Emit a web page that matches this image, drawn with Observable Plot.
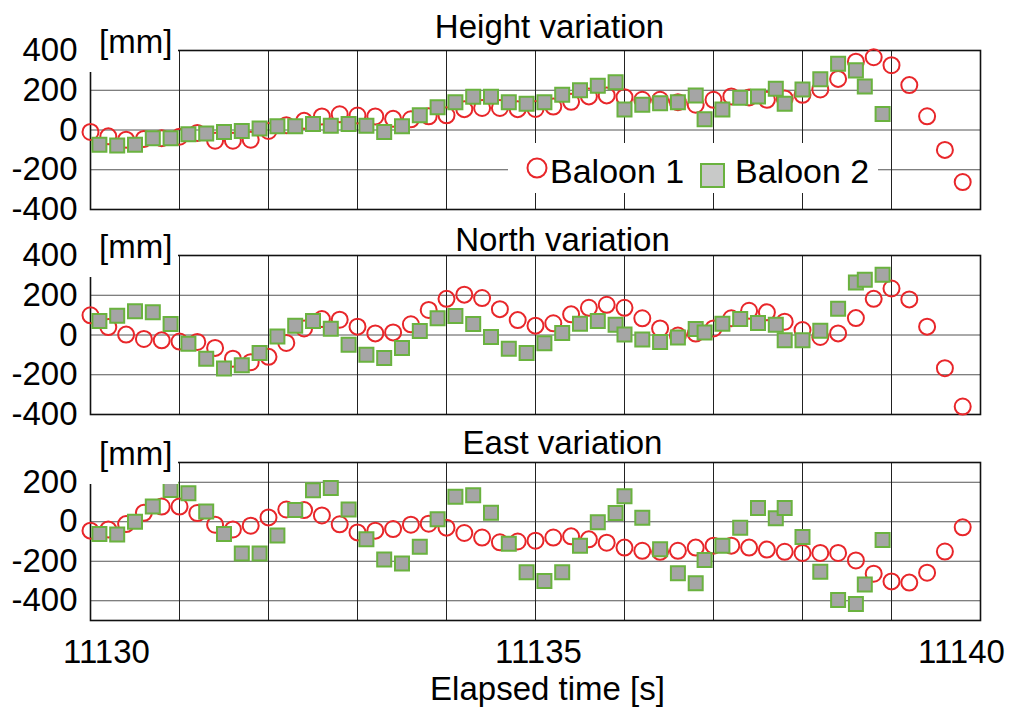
<!DOCTYPE html>
<html>
<head>
<meta charset="utf-8">
<script src="https://cdn.jsdelivr.net/npm/d3@7"></script>
<script src="https://cdn.jsdelivr.net/npm/@observablehq/plot@0.6"></script>
<style>
  body { margin: 0; background: #fff; }
  #wrap { position: relative; width: 1010px; height: 707px; overflow: hidden; font-family: "Liberation Sans", Arial, sans-serif; }
  #wrap svg.plot { position: absolute; left: 0; }
  .mm { position: absolute; background: #fff; font-size: 33px; line-height: 33px; color: #000; box-sizing: border-box; padding-left: 13px; padding-top: 2px; }
  #legend { position: absolute; left: 508px; top: 143px; width: 370px; height: 50px; background: #fff; }
</style>
</head>
<body>
<div id="wrap"></div>
<script>
// ---- data ----
const baseTime = 11130;
const timeB1 = [0.0,0.2,0.4,0.6,0.8,1.0,1.2,1.4,1.6,1.8,2.0,2.2,2.4,2.6,2.8,3.0,3.2,3.4,3.6,3.8,4.0,4.2,4.4,4.6,4.8,5.0,5.2,5.4,5.6,5.8,6.0,6.2,6.4,6.6,6.8,7.0,7.2,7.4,7.6,7.8,8.0,8.2,8.4,8.6,8.8,9.0,9.2,9.4,9.6,9.8];
const timeB2 = [0.1,0.3,0.5,0.7,0.9,1.1,1.3,1.5,1.7,1.9,2.1,2.3,2.5,2.7,2.9,3.1,3.3,3.5,3.7,3.9,4.1,4.3,4.5,4.7,4.9,5.1,5.3,5.5,5.7,5.9,6.0,6.2,6.4,6.6,6.8,6.9,7.1,7.3,7.5,7.7,7.8,8.0,8.2,8.4,8.6,8.7,8.9];

const heightB1 = [-10,-32,-49,-45,-41,-34,-15,-54,-54,-49,-5,24,46,68,79,73,68,56,54,69,74,105,111,111,105,106,118,142,169,174,165,152,152,140,127,152,169,164,152,159,177,204,257,344,366,326,226,69,-100,-262];
const heightB2 = [-74,-78,-74,-41,-42,-22,-17,-10,-5,7,19,19,30,22,30,22,-10,19,74,115,140,167,167,140,132,140,177,200,223,240,103,127,135,140,174,54,103,162,169,208,132,204,255,333,300,219,81];

const northB1 = [99,40,2,-20,-27,-33,-35,-65,-119,-137,-110,-40,33,80,77,42,8,13,54,126,182,203,186,130,75,47,59,104,137,152,137,84,33,-3,7,33,84,122,114,67,25,-10,8,85,182,234,179,42,-167,-360];
const northB2 = [70,97,119,114,55,-44,-119,-169,-152,-90,-7,47,70,32,-49,-99,-116,-65,20,84,95,55,-10,-69,-90,-42,10,57,70,52,2,-23,-35,-12,30,13,57,80,60,52,-27,-27,22,132,264,278,303];

const eastB1 = [-45,-39,-12,45,77,77,44,-15,-39,-20,22,62,59,32,-13,-54,-45,-37,-15,-10,-30,-57,-80,-104,-100,-96,-80,-74,-89,-106,-131,-147,-152,-147,-131,-121,-121,-131,-141,-152,-158,-158,-158,-196,-263,-302,-308,-258,-151,-28];
const eastB2 = [-62,-65,0,77,161,144,52,-62,-161,-161,-69,59,159,171,62,-89,-191,-211,-127,13,126,134,45,-111,-256,-300,-256,-122,-2,44,129,20,-139,-261,-312,-194,-122,-30,69,18,69,-77,-253,-396,-417,-318,-92];

const panelTitles = ["Height variation", "North variation", "East variation"];
const yTicksHN = [400, 200, 0, -200, -400];
const yTicksE = [200, 0, -200, -400];
const xGridLines = [11131, 11132, 11133, 11134, 11135, 11136, 11137, 11138, 11139];
const xTickLabels = [11130, 11135, 11140];
const xAxisLabel = "Elapsed time [s]";
const unitLabel = "[mm]";
const seriesNames = ["Baloon 1", "Baloon 2"];

// ---- build ----
const RED = "#e8262a", GREEN = "#6ab23f", GRAY = "#a5a5a5";
const FONT = "Liberation Sans, Arial, Helvetica, sans-serif";
const FS = 33;
const wrap = document.getElementById("wrap");

function rows(times, vals) {
  return times.map((t, i) => ({t: baseTime + t, v: vals[i]}));
}

function panel(o) {
  const marks = [
    Plot.gridY(o.ticks, {stroke: "#555", strokeOpacity: 1, strokeWidth: 1}),
    Plot.gridX(xGridLines, {stroke: "#222", strokeOpacity: 1, strokeWidth: 1}),
    Plot.frame({stroke: "#111", strokeWidth: 1.6}),
    Plot.axisY(o.ticks, {tickSize: 0, tickPadding: 13, fontSize: FS, label: null, tickFormat: d => String(d)}),
    Plot.text([o.title], {text: d => d, frameAnchor: "top", lineAnchor: "bottom", dy: o.titleDy, dx: o.titleDx, fontSize: FS}),
    Plot.dot(rows(timeB1, o.b1), {x: "t", y: "v", r: 8, stroke: RED, strokeWidth: 2, fill: "none"}),
    Plot.dot(rows(timeB2, o.b2), {x: "t", y: "v", r: 7.9, symbol: "square", fill: GRAY, stroke: GREEN, strokeWidth: 2})
  ];
  if (o.bottom) {
    const dxs = [16, 3, -19];
    xTickLabels.forEach((v, i) => {
      marks.push(Plot.text([v], {x: d => d, text: d => String(d), frameAnchor: "bottom", lineAnchor: "bottom", dy: 42, dx: dxs[i], fontSize: FS}));
    });
    marks.push(Plot.text([xAxisLabel], {text: d => d, frameAnchor: "bottom", lineAnchor: "bottom", dy: 79, dx: 12, fontSize: FS}));
  }
  const svg = Plot.plot({
    width: 1010,
    height: o.height,
    marginLeft: 90,
    marginRight: 30,
    marginTop: o.mt,
    marginBottom: o.mb,
    x: {domain: [11130, 11140], axis: null},
    y: {domain: o.domain, axis: null},
    style: {fontFamily: FONT, fontSize: FS + "px", color: "#000", background: "transparent", overflow: "visible"},
    marks
  });
  svg.classList.add("plot");
  svg.style.top = o.top + "px";
  wrap.appendChild(svg);

  const mm = document.createElement("div");
  mm.className = "mm";
  mm.textContent = unitLabel;
  mm.style.left = "86px";
  mm.style.width = "92px";
  mm.style.top = (o.top + o.mt - 27) + "px";
  mm.style.height = (27 + 22) + "px";
  wrap.appendChild(mm);
}

panel({title: panelTitles[0], b1: heightB1, b2: heightB2, domain: [-400, 400], ticks: yTicksHN, top: 0, height: 215, mt: 50, mb: 6, titleDy: -13, titleDx: 14});
panel({title: panelTitles[1], b1: northB1, b2: northB2, domain: [-400, 400], ticks: yTicksHN, top: 215, height: 205, mt: 40, mb: 6, titleDy: -5, titleDx: 27});
panel({title: panelTitles[2], b1: eastB1, b2: eastB2, domain: [-500, 300], ticks: yTicksE, top: 420, height: 287, mt: 42, mb: 87, titleDy: -9, titleDx: 27, bottom: true});

// legend
const lg = document.createElement("div");
lg.id = "legend";
lg.innerHTML = `<svg width="370" height="50" style="font-family:${FONT}">
  <circle cx="29" cy="25" r="9.5" fill="none" stroke="${RED}" stroke-width="2"/>
  <text x="42" y="40" font-size="34">${seriesNames[0]}</text>
  <rect x="193" y="21" width="23" height="23" fill="#c8c9c8" stroke="${GREEN}" stroke-width="2"/>
  <text x="227" y="40" font-size="34">${seriesNames[1]}</text>
</svg>`;
wrap.appendChild(lg);
</script>
</body>
</html>
